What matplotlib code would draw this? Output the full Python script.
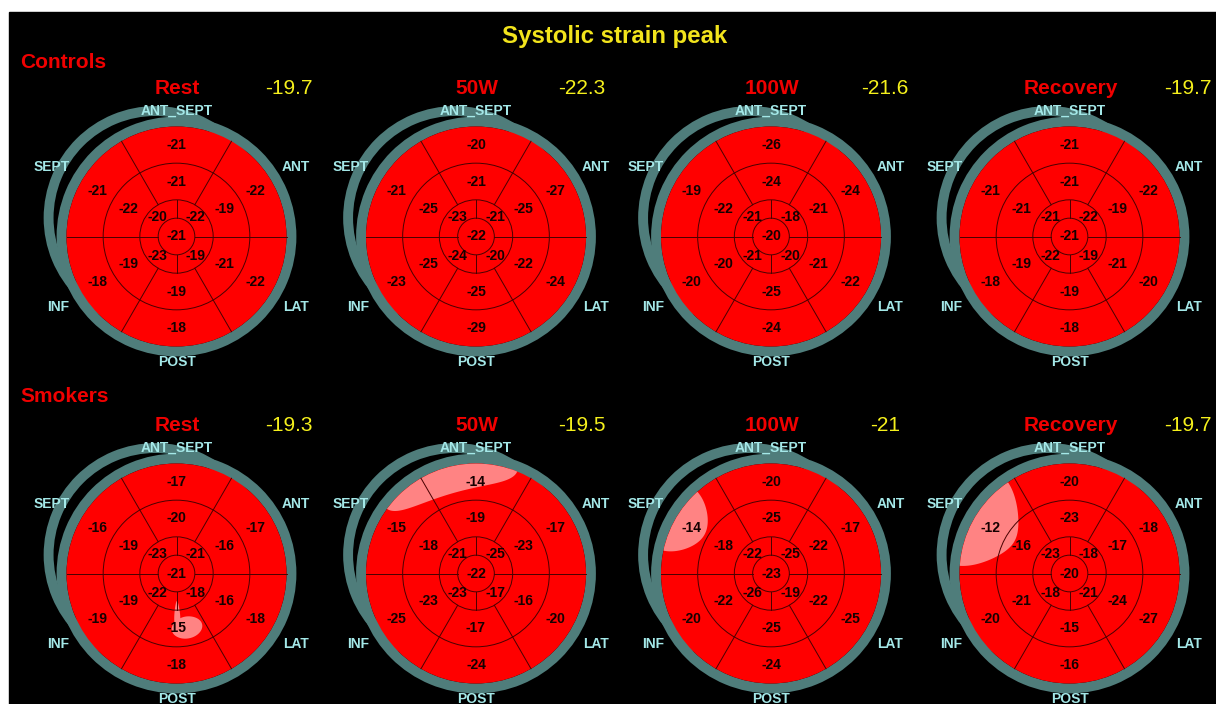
import numpy as np
import matplotlib
matplotlib.use("Agg")
import matplotlib.pyplot as plt
from matplotlib.patches import Wedge, Circle, Polygon, Rectangle

# ---------------------------------------------------------------- data
groups = ["Controls", "Smokers"]
stages = ["Rest", "50W", "100W", "Recovery"]
global_strain = [["-19.7", "-22.3", "-21.6", "-19.7"],
                 ["-19.3", "-19.5", "-21", "-19.7"]]

# wall names and the angle (deg) at which each basal / mid segment is centred
walls = ["ANT_SEPT", "ANT", "LAT", "POST", "INF", "SEPT"]
wall_angles = [90, 30, 330, 270, 210, 150]
apical_angles = [45, 315, 225, 135]

# peak systolic strain (%) per segment, ordered as walls / apical_angles
controls_basal = [[-21, -22, -22, -18, -18, -21],
                  [-20, -27, -24, -29, -23, -21],
                  [-26, -24, -22, -24, -20, -19],
                  [-21, -22, -20, -18, -18, -21]]
controls_mid = [[-21, -19, -21, -19, -19, -22],
                [-21, -25, -22, -25, -25, -25],
                [-24, -21, -21, -25, -20, -22],
                [-21, -19, -21, -19, -19, -21]]
controls_apical = [[-22, -19, -23, -20],
                   [-21, -20, -24, -23],
                   [-18, -20, -21, -21],
                   [-22, -19, -22, -21]]
controls_apex = [-21, -22, -20, -21]

smokers_basal = [[-17, -17, -18, -18, -19, -16],
                 [-14, -17, -20, -24, -25, -15],
                 [-20, -17, -25, -24, -20, -14],
                 [-20, -18, -27, -16, -20, -12]]
smokers_mid = [[-20, -16, -16, -15, -19, -19],
               [-19, -23, -16, -17, -23, -18],
               [-25, -22, -22, -25, -22, -18],
               [-23, -17, -24, -15, -21, -16]]
smokers_apical = [[-21, -18, -22, -23],
                  [-25, -17, -23, -21],
                  [-25, -19, -26, -22],
                  [-18, -21, -18, -23]]
smokers_apex = [-21, -22, -23, -20]

# zones of reduced deformation: (angle centre, angle half-width, radius centre, radius half-width)
controls_zones = [[], [], [], []]
smokers_zones = [[(281, 16, 0.50, 0.10), (271, 4, 0.38, 0.13)],
                 [(106, 38, 1.00, 0.24)],
                 [(150, 18, 1.00, 0.30)],
                 [(150, 26, 1.00, 0.42)]]

basal = [controls_basal, smokers_basal]
mid = [controls_mid, smokers_mid]
apical = [controls_apical, smokers_apical]
apex = [controls_apex, smokers_apex]
zones = [controls_zones, smokers_zones]

# ---------------------------------------------------------------- layout
W, H = 1216, 704
R_PX = 110.0                      # bullseye radius in pixels
col_x = [176.5, 476, 771, 1069.5]
row_y = [236.5, 573.5]
value_x = [289, 582, 885, 1187.5]
group_y = [61, 395]

RED = "#ff0000"
RING = "#4f7d7b"
WALL_COL = "#a4e8e8"
LINE_COL = "#480000"
ZONE_COL = "#ff8383"
FONT = "Liberation Sans"


def fx(x):
    return x / W


def fy(y):
    return 1 - y / H


def pol(r, deg):
    a = np.deg2rad(deg)
    return r * np.cos(a), r * np.sin(a)


fig = plt.figure(figsize=(W / 100, H / 100), dpi=100, facecolor="white")
fig.patches.append(Rectangle((fx(9), 0), 1, fy(12), transform=fig.transFigure,
                             color="black", zorder=-10))

fig.text(fx(615), fy(36), "Systolic strain peak", color="#f2e41c", fontsize=17.3,
         fontweight="bold", family=FONT, ha="center", va="center")

wall_offsets = {"ANT_SEPT": (0, 125.5), "ANT": (119.5, 69.5), "LAT": (119.5, -70.5),
                "POST": (0, -125.5), "INF": (-118, -70.5), "SEPT": (-125, 69.5)}

half = 148.0
lim = half / R_PX
for g, group in enumerate(groups):
    fig.text(fx(20), fy(group_y[g] + 1), group, color="#f00000", fontsize=15,
             fontweight="bold", family=FONT, ha="left", va="center")
    for s, stage in enumerate(stages):
        cx, cy = col_x[s], row_y[g]
        fig.text(fx(cx + 1), fy(cy - 148), stage, color="#f00000", fontsize=15,
                 fontweight="bold", family=FONT, ha="center", va="center")
        fig.text(fx(value_x[s]), fy(cy - 148), global_strain[g][s], color="#f5f01c",
                 fontsize=15, family=FONT, ha="center", va="center")

        ax = fig.add_axes([fx(cx - half), fy(cy + half), 2 * half / W, 2 * half / H])
        ax.set_xlim(-lim, lim)
        ax.set_ylim(-lim, lim)
        ax.axis("off")

        # outer frame: a displaced arc behind a concentric ring
        ox, oy = pol(0.256, 138.5)
        ax.add_patch(Wedge((ox, oy), 1.016, 0, 360, width=0.09, color=RING, lw=0))
        ax.add_patch(Wedge((0, 0), 1.09, 0, 360, width=0.09, color=RING, lw=0))
        disk = Circle((0, 0), 1.0, color=RED, lw=0)
        ax.add_patch(disk)

        # zones of reduced strain, clipped to the bullseye
        t = np.linspace(0, 2 * np.pi, 200)
        for tc, th, rc, rh in zones[g][s]:
            ang = tc + th * np.cos(t)
            rad = rc + rh * np.sin(t)
            xs, ys = pol(rad, ang)
            p = Polygon(np.column_stack([xs, ys]), closed=True, color=ZONE_COL, lw=0)
            ax.add_patch(p)
            p.set_clip_path(disk)

        # segment boundaries
        for r in (1 / 6, 1 / 3, 2 / 3):
            ax.add_patch(Circle((0, 0), r, fill=False, ec=LINE_COL, lw=0.7))
        for a in range(0, 360, 60):
            x0, y0 = pol(1 / 3, a)
            x1, y1 = pol(1.0, a)
            ax.plot([x0, x1], [y0, y1], color=LINE_COL, lw=0.7)
        for a in (0, 90, 180, 270):
            x0, y0 = pol(1 / 6, a)
            x1, y1 = pol(1 / 3, a)
            ax.plot([x0, x1], [y0, y1], color=LINE_COL, lw=0.7)

        # segment values
        kw = dict(color="#150000", fontsize=10, fontweight="bold", family=FONT,
                  ha="center", va="center")
        for v, a in zip(basal[g][s], wall_angles):
            ax.text(*pol(0.83, a), str(v), **kw)
        for v, a in zip(mid[g][s], wall_angles):
            ax.text(*pol(0.5, a), str(v), **kw)
        for v, a in zip(apical[g][s], apical_angles):
            ax.text(*pol(0.245, a), str(v), **kw)
        ax.text(0, 0, str(apex[g][s]), **kw)

        # wall names
        for name in walls:
            dx, dy = wall_offsets[name]
            ax.text(dx / R_PX, dy / R_PX, name, color=WALL_COL, fontsize=10,
                    fontweight="bold", family=FONT, ha="center", va="center")

fig.savefig("out.png", dpi=100, facecolor=fig.get_facecolor())
